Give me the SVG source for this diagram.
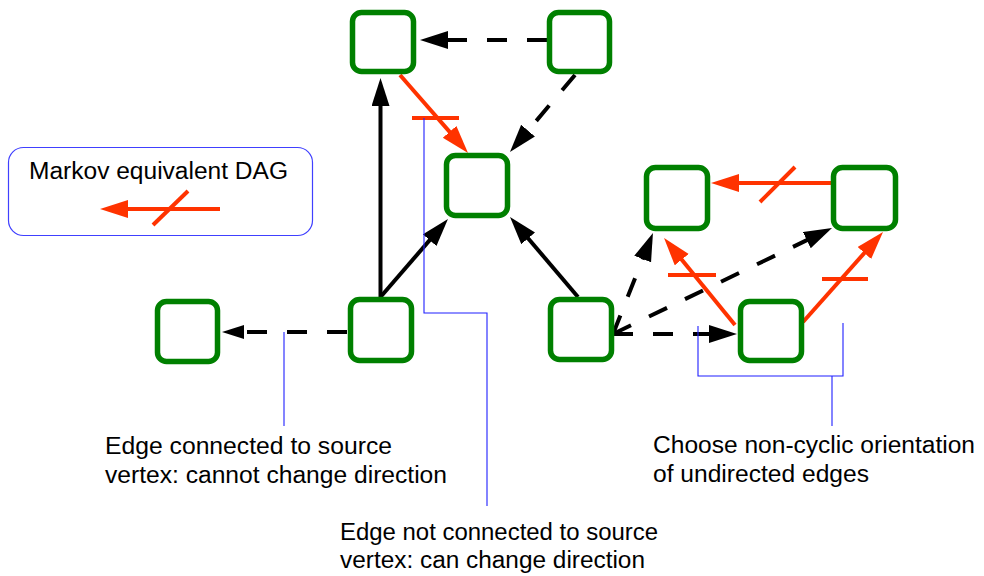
<svg xmlns="http://www.w3.org/2000/svg" width="984" height="576" viewBox="0 0 984 576">
<defs>
<marker id="ak" markerUnits="userSpaceOnUse" markerWidth="30" markerHeight="20" refX="14" refY="9" orient="auto"><path d="M0,0 L28,9 L0,18 z" fill="#000"/></marker>
<marker id="aks" markerUnits="userSpaceOnUse" markerWidth="24" markerHeight="16" refX="11" refY="7" orient="auto"><path d="M0,0 L22,7 L0,14 z" fill="#000"/></marker>
<marker id="ar" markerUnits="userSpaceOnUse" markerWidth="30" markerHeight="20" refX="14" refY="9" orient="auto"><path d="M0,0 L28,9 L0,18 z" fill="#ff3300"/></marker>
<style>
.node{fill:#fff;stroke:#008000;stroke-width:5.5}
.k{stroke:#000;stroke-width:4;fill:none}
.d{stroke-dasharray:20,20}
.r{stroke:#ff3300;stroke-width:4;fill:none}
.b{stroke:#1f1fff;stroke-width:1.1;fill:none}
text{font-family:"Liberation Sans",Arial,sans-serif;font-size:23px;fill:#000}
</style>
</defs>
<rect width="984" height="576" fill="#fff"/>
<g id="legend">
<rect x="8.5" y="147.5" width="304" height="88" rx="15" fill="none" stroke="#4040ff" stroke-width="1.2"/>
<text x="29" y="179" textLength="259" lengthAdjust="spacingAndGlyphs">Markov equivalent DAG</text>
<path class="r" d="M220,209 H114" marker-end="url(#ar)"/>
<path class="r" d="M153,225 L188,191"/>
</g>
<g id="connectors">
<path class="k d" d="M547,40 H434" marker-end="url(#ak)"/>
<path class="k d" d="M575,75 L519,141.3" marker-end="url(#ak)"/>
<path class="r" d="M400,75 L458.8,142.4" marker-end="url(#ar)"/>
<path class="r" d="M412,118 H459"/>
<path class="k" d="M380.5,297 V92" marker-end="url(#ak)"/>
<path class="k" d="M380.5,297 L438.8,229.6" marker-end="url(#ak)"/>
<path class="k" d="M578,297 L519.1,227.7" marker-end="url(#ak)"/>
<path class="k d" d="M347,332 H233" marker-end="url(#aks)"/>
<path class="k d" d="M613,334 L647.8,246" marker-end="url(#ak)"/>
<path class="k d" d="M613,334 L819.4,234.1" marker-end="url(#ak)"/>
<path class="k d" d="M613,334 H723" marker-end="url(#ak)"/>
<path class="r" d="M831,183 H725" marker-end="url(#ar)"/>
<path class="r" d="M760,202 L795,167"/>
<path class="r" d="M735,325 L672.9,248.8" marker-end="url(#ar)"/>
<path class="r" d="M668,275 H716"/>
<path class="r" d="M803,322 L873.7,242.5" marker-end="url(#ar)"/>
<path class="r" d="M822,279 H868"/>
</g>
<g id="callouts">
<path class="b" d="M284,332 V426"/>
<path class="b" d="M424,118 V313 H487 V506"/>
<path class="b" d="M698,326 V376 H843 V323 M832,376 V426"/>
</g>
<g id="nodeA"><rect class="node" x="352.5" y="12.5" width="61" height="59" rx="9"/></g>
<g id="nodeB"><rect class="node" x="549.5" y="12.5" width="60" height="59" rx="9"/></g>
<g id="nodeC"><rect class="node" x="446.5" y="155.5" width="61" height="60" rx="9"/></g>
<g id="nodeD"><rect class="node" x="157.5" y="301.5" width="60" height="60" rx="9"/></g>
<g id="nodeE"><rect class="node" x="350.5" y="299.5" width="61" height="61" rx="9"/></g>
<g id="nodeF"><rect class="node" x="550.5" y="299.5" width="61" height="60" rx="9"/></g>
<g id="nodeG"><rect class="node" x="646.5" y="167.5" width="61" height="61" rx="9"/></g>
<g id="nodeH"><rect class="node" x="833.5" y="167.5" width="62" height="61" rx="9"/></g>
<g id="nodeI"><rect class="node" x="740.5" y="301.5" width="61" height="59" rx="9"/></g>
<g id="labels">
<text x="105" y="454" textLength="287" lengthAdjust="spacingAndGlyphs">Edge connected to source</text>
<text x="105" y="483" textLength="342" lengthAdjust="spacingAndGlyphs">vertex: cannot change direction</text>
<text x="340" y="540" textLength="318" lengthAdjust="spacingAndGlyphs">Edge not connected to source</text>
<text x="340" y="568" textLength="305" lengthAdjust="spacingAndGlyphs">vertex: can change direction</text>
<text x="653" y="453" textLength="322" lengthAdjust="spacingAndGlyphs">Choose non-cyclic orientation</text>
<text x="653" y="482" textLength="216" lengthAdjust="spacingAndGlyphs">of undirected edges</text>
</g>
</svg>
